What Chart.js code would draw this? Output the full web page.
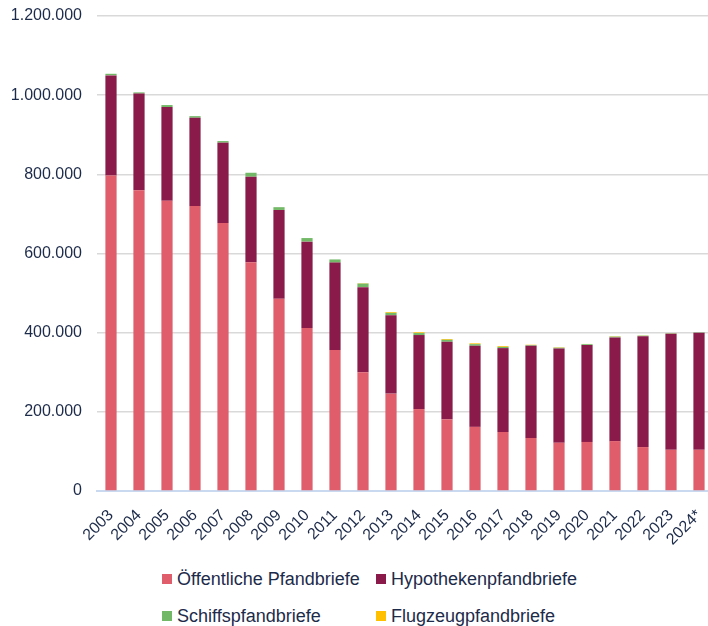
<!DOCTYPE html>
<html>
<head>
<meta charset="utf-8">
<script src="https://cdn.jsdelivr.net/npm/chart.js@4"></script>
<style>
  html, body { margin:0; padding:0; background:#fff; overflow:hidden; width:708px; height:626px; }
  #wrap { position:absolute; left:0; top:0; width:713px; height:560px; }
  #legend { position:absolute; left:0; top:560px; width:708px; height:66px; font-family:"Liberation Sans", Arial, sans-serif; font-size:18px; color:#1d2b4a; }
  .li { position:absolute; white-space:nowrap; line-height:20px; }
  .sw { position:absolute; width:10px; height:10px; }
</style>
</head>
<body>
<div id="wrap"><canvas id="c" width="713" height="560"></canvas></div>
<div id="legend"></div>
<script>
const categories = ["2003","2004","2005","2006","2007","2008","2009","2010","2011","2012","2013","2014","2015","2016","2017","2018","2019","2020","2021","2022","2023","2024*"];
const oeffentliche = [797000,760000,733000,720000,677000,578000,486000,412000,356000,300000,246000,207000,181000,162000,149000,134000,122000,124000,126000,111000,104000,104000];
const hypotheken  = [253000,244000,237000,223000,203000,216000,224000,218000,221000,215000,198000,187000,196000,205000,212000,233000,238000,245000,262000,280000,293000,296000];
const schiffs     = [4000,3000,5000,4000,4000,10000,7000,9000,8000,9000,6000,5000,5000,4000,3000,1500,2000,2000,2000,1500,1000,1000];
const flugzeug    = [0,0,0,0,0,0,0,0,0,1000,2000,2000,2000,2000,2000,1000,1000,500,1000,500,500,0];
const yTicks = [0,200000,400000,600000,800000,1000000,1200000];
const seriesNames = ["Öffentliche Pfandbriefe","Hypothekenpfandbriefe","Schiffspfandbriefe","Flugzeugpfandbriefe"];
const seriesColors = ["#E05D6B","#891A4A","#72B866","#FFC000"];

const FONT = "'Liberation Sans', Arial, sans-serif";
const TXT = "#1d2b4a";
function fmt(v){ return String(v).replace(/\B(?=(\d{3})+(?!\d))/g, "."); }

const dataArrays = [oeffentliche, hypotheken, schiffs, flugzeug];
new Chart(document.getElementById("c"), {
  type: "bar",
  data: {
    labels: categories,
    datasets: dataArrays.map((d,i)=>({
      label: seriesNames[i], data: d, backgroundColor: seriesColors[i],
      borderWidth: 0, barPercentage: 0.4, categoryPercentage: 1.0, stack: "s"
    }))
  },
  options: {
    responsive: false, animation: false, devicePixelRatio: 1,
    layout: { padding: { top: 16, right: 0, bottom: 0, left: 0 } },
    plugins: { legend: { display: false }, tooltip: { enabled: false } },
    scales: {
      x: {
        stacked: true,
        grid: { display: false, drawTicks: false },
        border: { display: true, color: "#C9DAF0", width: 2 },
        ticks: { color: TXT, font: { family: FONT, size: 16 }, minRotation: 45, maxRotation: 45, padding: 15, autoSkip: false },
        afterFit: s => { s.height = 69; s.paddingLeft = 0; s.paddingRight = 0; }
      },
      y: {
        stacked: true, min: 0, max: 1200000,
        afterBuildTicks: s => { s.ticks = yTicks.map(v=>({value:v})); },
        grid: { color: c => c.tick && c.tick.value === 0 ? "rgba(0,0,0,0)" : "#D9D9D9", lineWidth: 1.5, drawTicks: false },
        border: { display: false },
        ticks: { color: TXT, font: { family: FONT, size: 16 }, padding: 15, callback: v => fmt(v) },
        afterFit: s => { s.width = 97; s.paddingTop = 0; s.paddingBottom = 0; }
      }
    }
  }
});

// HTML legend in a 2-column grid
const lg = document.getElementById("legend");
const pos = [[162,13],[376,13],[162,50],[376,50]];
seriesNames.forEach((n,i)=>{
  const sw = document.createElement("div");
  sw.className = "sw"; sw.style.background = seriesColors[i];
  sw.style.left = pos[i][0]+"px"; sw.style.top = (pos[i][1]+1)+"px";
  lg.appendChild(sw);
  const t = document.createElement("div");
  t.className = "li"; t.textContent = n;
  t.style.left = (pos[i][0]+15)+"px"; t.style.top = (pos[i][1]-4)+"px";
  lg.appendChild(t);
});
</script>
</body>
</html>
